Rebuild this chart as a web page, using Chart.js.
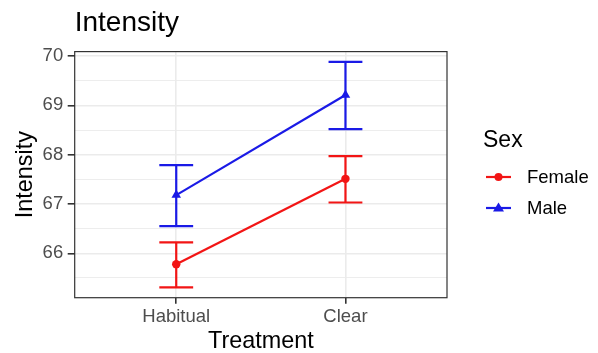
<!DOCTYPE html>
<html>
<head>
<meta charset="utf-8">
<script src="https://cdn.jsdelivr.net/npm/chart.js@4"></script>
<style>
  html, body { margin: 0; padding: 0; background: #fff; }
  #wrap { width: 598px; height: 353px; }
</style>
</head>
<body>
<div id="wrap"><canvas id="chart" width="598" height="353"></canvas></div>
<script>
// data
const treatments = ['Habitual', 'Clear'];
const sexes = ['Female', 'Male'];
const female_mean = [65.78, 67.51];
const female_lo = [65.31, 67.03];
const female_hi = [66.22, 67.97];
const male_mean = [67.18, 69.21];
const male_lo = [66.55, 68.52];
const male_hi = [67.79, 69.88];
const y_ticks = [66, 67, 68, 69, 70];
const y_minor = [65.5, 66.5, 67.5, 68.5, 69.5];

const RED = '#f21515';
const BLUE = '#1a1ae6';
const FONT = 'Liberation Sans, Arial, sans-serif';

function to_points(values) {
    return values.map((v, i) => ({ x: i, y: v }));
}

// error bars drawn through the chart's scales
const errorbars = {
    id: 'errorbars',
    afterDatasetsDraw(chart) {
        const ctx = chart.ctx;
        const xs = chart.scales.x;
        const ys = chart.scales.y;
        const sets = [[female_lo, female_hi, RED], [male_lo, male_hi, BLUE]];
        ctx.save();
        ctx.lineWidth = 2.2;
        ctx.lineCap = 'butt';
        for (const [lo, hi, col] of sets) {
            ctx.strokeStyle = col;
            for (let i = 0; i < lo.length; i++) {
                const x = xs.getPixelForValue(i);
                const x0 = xs.getPixelForValue(i - 0.1);
                const x1 = xs.getPixelForValue(i + 0.1);
                const yl = ys.getPixelForValue(lo[i]);
                const yh = ys.getPixelForValue(hi[i]);
                ctx.beginPath();
                ctx.moveTo(x, yl); ctx.lineTo(x, yh);
                ctx.moveTo(x0, yl); ctx.lineTo(x1, yl);
                ctx.moveTo(x0, yh); ctx.lineTo(x1, yh);
                ctx.stroke();
            }
        }
        ctx.restore();
    }
};

// panel border + ggplot style legend
const panel = {
    id: 'panel',
    afterDraw(chart) {
        const ctx = chart.ctx;
        const a = chart.chartArea;
        ctx.save();
        ctx.strokeStyle = '#333333';
        ctx.lineWidth = 1.2;
        ctx.strokeRect(a.left, a.top, a.right - a.left, a.bottom - a.top);

        ctx.fillStyle = '#000';
        ctx.textBaseline = 'middle';
        ctx.font = '23px ' + FONT;
        ctx.fillText('Sex', 483, 141);

        const items = [[sexes[0], RED, 'circle', 177], [sexes[1], BLUE, 'triangle', 208]];
        ctx.font = '18.5px ' + FONT;
        for (const [label, col, shape, y] of items) {
            ctx.strokeStyle = col;
            ctx.fillStyle = col;
            ctx.lineWidth = 2.2;
            ctx.beginPath();
            ctx.moveTo(486, y); ctx.lineTo(511, y);
            ctx.stroke();
            ctx.beginPath();
            if (shape === 'circle') {
                ctx.arc(498.5, y, 4, 0, Math.PI * 2);
            } else {
                ctx.moveTo(498.5, y - 5.5);
                ctx.lineTo(504, y + 3.5);
                ctx.lineTo(493, y + 3.5);
                ctx.closePath();
            }
            ctx.fill();
            ctx.fillStyle = '#000';
            ctx.fillText(label, 527, y + 1);
        }
        ctx.restore();
    }
};

const ctx = document.getElementById('chart').getContext('2d');
const chart = new Chart(ctx, {
    type: 'line',
    data: {
        datasets: [{
            label: sexes[0],
            data: to_points(female_mean),
            borderColor: RED,
            backgroundColor: RED,
            borderWidth: 2.2,
            pointStyle: 'circle',
            pointRadius: 4.2,
            pointBorderWidth: 0,
            tension: 0
        }, {
            label: sexes[1],
            data: to_points(male_mean),
            borderColor: BLUE,
            backgroundColor: BLUE,
            borderWidth: 2.2,
            pointStyle: 'triangle',
            pointRadius: 5.5,
            pointBorderWidth: 0,
            tension: 0
        }]
    },
    options: {
        responsive: false,
        animation: false,
        layout: { padding: { left: 0, right: 151, top: 0, bottom: 0 } },
        plugins: {
            legend: { display: false },
            tooltip: { enabled: false },
            title: {
                display: true,
                text: 'Intensity',
                align: 'start',
                fullSize: false,
                color: '#000',
                font: { family: FONT, size: 28, weight: 'normal', lineHeight: 1.2 },
                padding: { top: 6, bottom: 12 }
            }
        },
        scales: {
            x: {
                type: 'linear',
                min: -0.6,
                max: 1.6,
                afterBuildTicks(s) { s.ticks = treatments.map((t, i) => ({ value: i })); },
                afterFit(s) { s.height = 55.3; },
                ticks: {
                    callback: (v) => treatments[v],
                    color: '#4d4d4d',
                    font: { family: FONT, size: 18.5 },
                    padding: 2,
                    maxRotation: 0
                },
                grid: { color: '#ebebeb', lineWidth: 1.6, tickColor: '#333333', tickLength: 6 },
                border: { display: false },
                title: {
                    display: true,
                    text: 'Treatment',
                    color: '#000',
                    font: { family: FONT, size: 23.4, lineHeight: 1 },
                    padding: { top: 0, bottom: 0 }
                }
            },
            y: {
                min: 65.1,
                max: 70.09,
                afterBuildTicks(s) {
                    s.ticks = y_ticks.concat(y_minor).sort((a, b) => a - b).map(v => ({ value: v }));
                },
                afterFit(s) { s.width = 74.7; },
                ticks: {
                    callback: (v) => (y_ticks.includes(v) ? String(v) : ''),
                    color: '#4d4d4d',
                    font: { family: FONT, size: 18.5 },
                    padding: 4.5
                },
                grid: {
                    color: '#ebebeb',
                    lineWidth: (c) => (y_ticks.includes(c.tick.value) ? 1.6 : 0.9),
                    tickColor: (c) => (y_ticks.includes(c.tick.value) ? '#333333' : 'rgba(0,0,0,0)'),
                    tickLength: 7
                },
                border: { display: false },
                title: {
                    display: true,
                    text: 'Intensity',
                    color: '#000',
                    font: { family: FONT, size: 23.4, lineHeight: 1.2 },
                    padding: { top: 12, bottom: 0 }
                }
            }
        }
    },
    plugins: [errorbars, panel]
});
</script>
</body>
</html>
